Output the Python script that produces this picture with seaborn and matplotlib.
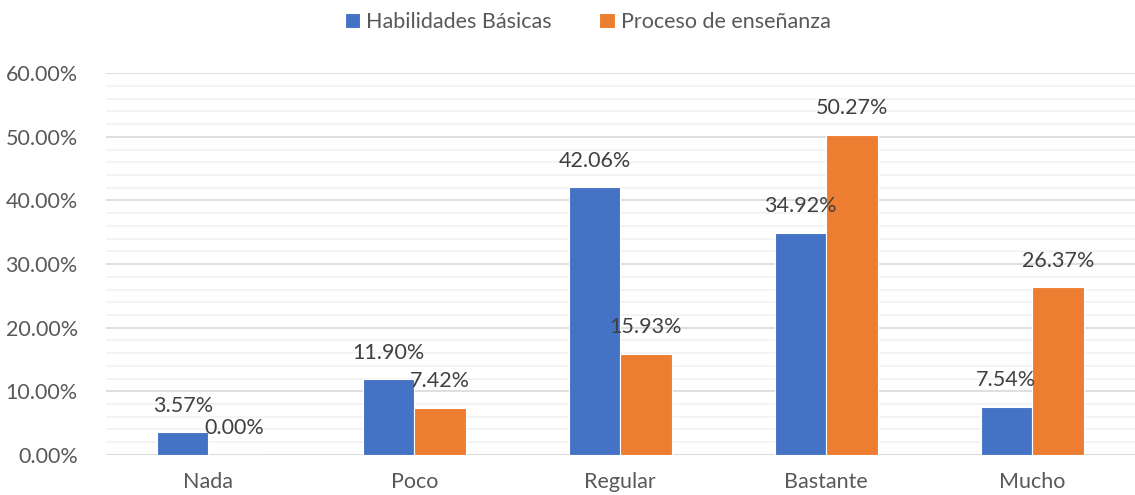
import numpy as np
import pandas as pd
import matplotlib
matplotlib.use("Agg")
import matplotlib.pyplot as plt
import seaborn as sns
from matplotlib.ticker import MultipleLocator, PercentFormatter

categorias = ["Nada", "Poco", "Regular", "Bastante", "Mucho"]
habilidades = [3.57, 11.90, 42.06, 34.92, 7.54]
proceso = [0.00, 7.42, 15.93, 50.27, 26.37]
series = ["Habilidades Básicas", "Proceso de enseñanza"]

df = pd.DataFrame({
    "cat": categorias * 2,
    "val": habilidades + proceso,
    "serie": [series[0]] * 5 + [series[1]] * 5,
})

sns.set_style("white")
plt.rcParams["font.family"] = ["Lato", "DejaVu Sans"]

fig = plt.figure(figsize=(11.35, 4.95), dpi=100)
ax = fig.add_axes([0.093, 0.081, 0.907, 0.771])

sns.barplot(data=df, x="cat", y="val", hue="serie", order=categorias,
            hue_order=series, palette=["#4472C4", "#ED7D31"], saturation=1,
            width=0.5, gap=0, edgecolor="white", linewidth=0.8, ax=ax,
            legend=True)

ax.set_ylim(0, 60)
ax.set_xlim(-0.5, 4.5)
ax.yaxis.set_major_locator(MultipleLocator(10))
ax.yaxis.set_minor_locator(MultipleLocator(2))
ax.yaxis.set_major_formatter(PercentFormatter(decimals=2))
ax.grid(axis="y", which="minor", color="#f2f2f2", linewidth=1.2)
ax.grid(axis="y", which="major", color="#d9d9d9", linewidth=1.2)
ax.set_axisbelow(True)
for s in ax.spines.values():
    s.set_visible(False)
ax.axhline(0, color="#d9d9d9", linewidth=1.2, zorder=0.5)
ax.tick_params(axis="both", length=0, labelsize=15.5, labelcolor="#595959")
ax.tick_params(axis="y", pad=20)
ax.tick_params(axis="x", pad=12)
ax.set_xlabel("")
ax.set_ylabel("")

for cont in ax.containers:
    ax.bar_label(cont, labels=[f"{v:.2f}%" for v in cont.datavalues],
                 padding=12, fontsize=15.5, color="#404040")

h, l = ax.get_legend_handles_labels()
ax.legend_.remove()
fig.legend(h, l, loc="center", bbox_to_anchor=(0.518, 0.955), ncol=2,
           frameon=False, fontsize=15.5, handlelength=0.7, handleheight=0.7,
           handletextpad=0.3, columnspacing=2.2, labelcolor="#595959")

fig.savefig("out.png", dpi=100)
